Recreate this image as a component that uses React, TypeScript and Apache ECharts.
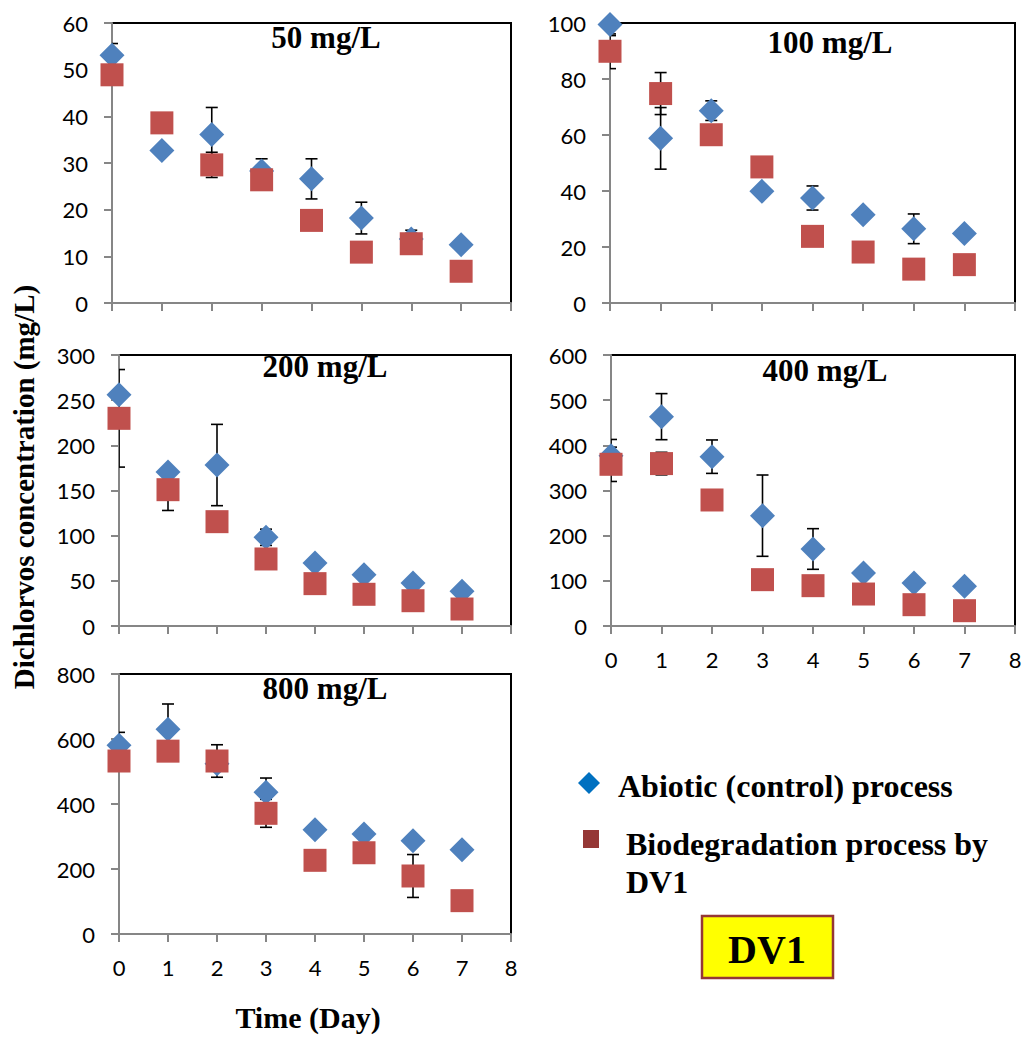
import React, { useEffect, useRef } from "react";
import * as echarts from "echarts";

const days = [0, 1, 2, 3, 4, 5, 6, 7];

// 50 mg/L
const abiotic50 = [53.1, 32.7, 36.1, 28.3, 26.6, 18.2, 13.7, 12.5];
const abioticErr50 = [2.5, 0, 5.8, 2.6, 4.3, 3.4, 1.9, 0];
const bio50 = [48.9, 38.6, 29.6, 26.4, 17.7, 10.9, 12.7, 6.8];
const bioErr50 = [0, 0, 2.7, 0, 0, 0, 0, 0];

// 100 mg/L
const abiotic100 = [99.5, 58.8, 68.7, 39.9, 37.5, 31.5, 26.5, 24.8];
const abioticErr100 = [4, 11, 3.5, 0, 4.3, 0, 5.3, 0];
const bio100 = [89.9, 74.8, 60.1, 48.6, 23.8, 18.2, 12.1, 13.7];
const bioErr100 = [6.2, 7.5, 0, 0, 0, 0, 0, 0];

// 200 mg/L
const abiotic200 = [256, 170.5, 178.2, 98.2, 69.7, 56.8, 47.6, 38.4];
const abioticErr200 = [0, 0, 45, 9, 0, 0, 0, 0];
const bio200 = [229.9, 150.9, 115.5, 74.2, 46.9, 35.1, 28, 18.8];
const bioErr200 = [54, 23, 0, 0, 0, 0, 0, 0];

// 400 mg/L
const abiotic400 = [377, 463.5, 374.9, 244.3, 170.5, 117.3, 95.2, 87.8];
const abioticErr400 = [36, 51, 37, 90, 45, 0, 0, 0];
const bio400 = [358, 359.6, 279, 102.6, 89.3, 70.8, 47.2, 33.9];
const bioErr400 = [38, 25, 0, 0, 0, 0, 0, 0];

// 800 mg/L
const abiotic800 = [580.5, 629.7, 524, 435.9, 321, 308, 287.2, 259.5];
const abioticErr800 = [40, 78, 0, 44, 15, 0, 0, 0];
const bio800 = [532.3, 562.6, 532.3, 371.3, 226.7, 250, 178.5, 102.6];
const bioErr800 = [0, 0, 50, 43, 0, 0, 66, 0];

const panelTitles = ["50 mg/L", "100 mg/L", "200 mg/L", "400 mg/L", "800 mg/L"];
const yMax = [60, 100, 300, 600, 800];
const yStep = [10, 20, 50, 100, 200];
const abioticAll = [abiotic50, abiotic100, abiotic200, abiotic400, abiotic800];
const abioticErrAll = [abioticErr50, abioticErr100, abioticErr200, abioticErr400, abioticErr800];
const bioAll = [bio50, bio100, bio200, bio400, bio800];
const bioErrAll = [bioErr50, bioErr100, bioErr200, bioErr400, bioErr800];

const legendAbiotic = "Abiotic (control) process";
const legendBio1 = "Biodegradation process by";
const legendBio2 = "DV1";
const xTitle = "Time (Day)";
const yTitle = "Dichlorvos concentration (mg/L)";
const badge = "DV1";

// layout
const grids = [
  { left: 112, top: 23, width: 399, height: 280, showX: false, tx: 326, ty: 37 },
  { left: 610, top: 23, width: 405, height: 280, showX: false, tx: 830, ty: 42 },
  { left: 119, top: 355, width: 392, height: 271, showX: false, tx: 325, ty: 366 },
  { left: 611, top: 355, width: 404, height: 271, showX: true, tx: 825, ty: 370 },
  { left: 119, top: 674, width: 392, height: 260, showX: true, tx: 325, ty: 688 },
];

const SERIF = '"Liberation Serif", "Times New Roman", serif';
const SANS = 'Lato, "Open Sans", sans-serif';
const AXIS_GREY = "#868686";

function errRender(params: any, api: any) {
  const x = api.value(0);
  const y = api.value(1);
  const e = api.value(2);
  const top = api.coord([x, y + e]);
  const bot = api.coord([x, y - e]);
  const cw = 6;
  const st = { stroke: "#000", lineWidth: 1.6 };
  return {
    type: "group",
    children: [
      { type: "line", shape: { x1: top[0], y1: top[1], x2: bot[0], y2: bot[1] }, style: st },
      { type: "line", shape: { x1: top[0] - cw, y1: top[1], x2: top[0] + cw, y2: top[1] }, style: st },
      { type: "line", shape: { x1: bot[0] - cw, y1: bot[1], x2: bot[0] + cw, y2: bot[1] }, style: st },
    ],
  };
}

function txt(text: string, x: number, y: number, size: number, align: string, extra: any = {}) {
  return {
    type: "text",
    x,
    y,
    z: 100,
    ...extra,
    style: {
      text,
      x: 0,
      y: 0,
      font: `bold ${size}px ${SERIF}`,
      fill: "#000",
      textAlign: align,
      textVerticalAlign: "middle",
      align,
      verticalAlign: "middle",
    },
  };
}

export default function App() {
  const ref = useRef<HTMLDivElement>(null);
  useEffect(() => {
    if (!ref.current) return;
    const chart = echarts.init(ref.current, undefined, { renderer: "svg" });

    const series: any[] = [];
    grids.forEach((g, i) => {
      const errA = days
        .map((d, k) => [d, abioticAll[i][k], abioticErrAll[i][k]])
        .filter((r) => r[2] > 0);
      const errB = days
        .map((d, k) => [d, bioAll[i][k], bioErrAll[i][k]])
        .filter((r) => r[2] > 0);
      series.push({
        type: "custom",
        xAxisIndex: i,
        yAxisIndex: i,
        renderItem: errRender,
        data: errA,
        encode: { x: 0, y: 1 },
        clip: true,
        z: 1,
      });
      series.push({
        type: "custom",
        xAxisIndex: i,
        yAxisIndex: i,
        renderItem: errRender,
        data: errB,
        encode: { x: 0, y: 1 },
        clip: true,
        z: 1,
      });
      series.push({
        name: legendAbiotic,
        type: "scatter",
        xAxisIndex: i,
        yAxisIndex: i,
        symbol: "diamond",
        symbolSize: [25, 25],
        itemStyle: { color: "#4F81BD", opacity: 1 },
        data: days.map((d, k) => [d, abioticAll[i][k]]),
        clip: false,
        z: 2,
      });
      series.push({
        name: legendBio1 + " " + legendBio2,
        type: "scatter",
        xAxisIndex: i,
        yAxisIndex: i,
        symbol: "rect",
        symbolSize: [23, 23],
        itemStyle: { color: "#C0504D", opacity: 1 },
        data: days.map((d, k) => [d, bioAll[i][k]]),
        clip: false,
        z: 3,
      });
    });

    const graphics: any[] = [];
    grids.forEach((g, i) => {
      graphics.push(txt(panelTitles[i], g.tx, g.ty, 31, "center"));
    });
    graphics.push(txt(yTitle, 24, 487, 29, "center", { rotation: Math.PI / 2 }));
    graphics.push(txt(xTitle, 308, 1017, 30, "center"));
    // legend
    graphics.push({
      type: "polygon",
      z: 100,
      shape: { points: [[589, 772], [600, 783], [589, 794], [578, 783]] },
      style: { fill: "#0070C0" },
    });
    graphics.push(txt(legendAbiotic, 618, 786, 32, "left"));
    graphics.push({
      type: "rect",
      z: 100,
      shape: { x: 583, y: 830, width: 16, height: 18 },
      style: { fill: "#953735" },
    });
    graphics.push(txt(legendBio1, 626, 844, 32, "left"));
    graphics.push(txt(legendBio2, 626, 882, 32, "left"));
    // badge
    graphics.push({
      type: "rect",
      z: 100,
      shape: { x: 702, y: 916, width: 131, height: 62 },
      style: { fill: "#FFFF00", stroke: "#953735", lineWidth: 2.5 },
    });
    graphics.push(txt(badge, 767, 949, 40, "center", { z: 101 }));

    const option: any = {
      animation: false,
      backgroundColor: "#ffffff",
      grid: grids.map((g) => ({
        left: g.left,
        top: g.top,
        width: g.width,
        height: g.height,
        show: true,
        borderColor: "#000",
        borderWidth: 2,
        backgroundColor: "transparent",
      })),
      xAxis: grids.map((g, i) => ({
        gridIndex: i,
        type: "value",
        min: 0,
        max: 8,
        interval: 1,
        axisLine: { show: true, onZero: false, lineStyle: { color: AXIS_GREY, width: 2 } },
        axisTick: { show: true, inside: false, length: 8, lineStyle: { color: AXIS_GREY, width: 2 } },
        axisLabel: {
          show: g.showX,
          margin: 22,
          color: "#000",
          fontFamily: SANS,
          fontSize: 22,
        },
        splitLine: { show: false },
      })),
      yAxis: grids.map((g, i) => ({
        gridIndex: i,
        type: "value",
        min: 0,
        max: yMax[i],
        interval: yStep[i],
        axisLine: { show: true, onZero: false, lineStyle: { color: AXIS_GREY, width: 2 } },
        axisTick: { show: true, inside: false, length: 8, lineStyle: { color: AXIS_GREY, width: 2 } },
        axisLabel: {
          show: true,
          margin: 24,
          color: "#000",
          fontFamily: SANS,
          fontSize: 22,
        },
        splitLine: { show: false },
      })),
      series,
      graphic: graphics,
    };
    chart.setOption(option);
    return () => chart.dispose();
  }, []);
  return (
    <div
      ref={ref}
      style={{ position: "fixed", left: 0, top: 0, width: 1026, height: 1037, background: "#fff" }}
    />
  );
}
